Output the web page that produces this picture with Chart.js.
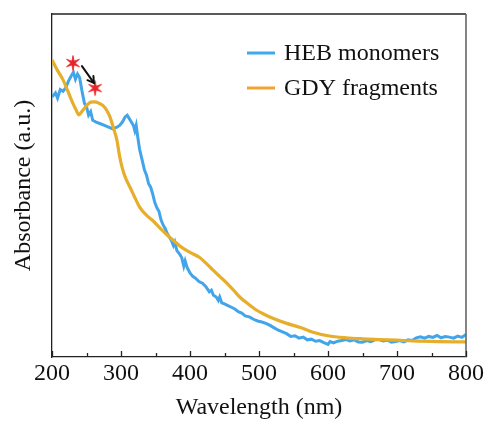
<!DOCTYPE html>
<html><head><meta charset="utf-8">
<script src="https://cdn.jsdelivr.net/npm/chart.js@4/dist/chart.umd.min.js"></script>
<style>html,body{margin:0;padding:0;background:#fff}</style>
</head><body>
<canvas id="c" width="486" height="423"></canvas>
<script>
// ---- data (wavelength in nm, absorbance in arbitrary units 0..100) ----
const hebWavelength = [200,205,208,212,216,220,224,228,231,234,237,240,244,247,250,253,256,259,264,270,276,282,288,294,298,302,306,309,312,315,318,320,322,324,327,330,334,337,340,343,346,349,352,355,358,361,364,367,370,373,376,378,381,385,388,391,393,396,400,404,408,413,418,423,428,431,434,438,441,443,446,450,455,460,465,470,475,480,486,492,498,504,510,516,522,528,534,540,546,552,558,564,570,576,582,588,594,600,603,608,614,620,626,632,638,644,650,656,662,668,674,680,686,692,698,704,710,716,722,728,734,740,746,752,758,764,770,776,782,788,794,800];
const hebAbsorbance = [75.8,77.0,75.5,78.0,77.5,78.5,80.5,82.0,83.0,81.0,82.5,81.5,77.0,74.0,73.0,70.5,71.5,69.0,68.5,68.0,67.5,67.0,66.5,67.0,67.5,68.5,70.0,70.5,69.5,68.5,67.5,66.0,67.5,64.5,60.5,58.0,54.5,53.0,50.5,49.5,47.5,45.0,43.5,42.5,40.0,38.5,37.5,36.0,35.0,34.0,32.5,33.5,31.0,30.0,29.0,26.5,28.0,26.0,24.5,23.5,23.0,22.0,21.5,20.5,19.0,19.5,18.0,17.5,16.5,17.5,15.8,15.5,15.0,14.5,14.0,13.2,12.8,12.0,11.7,11.0,10.5,10.2,9.8,9.2,8.5,7.8,7.3,6.8,6.0,6.2,5.5,5.8,5.0,5.2,4.6,4.8,4.2,3.7,4.5,4.1,4.6,4.8,5.1,4.7,5.0,4.4,4.3,4.8,4.5,5.0,5.1,4.7,4.9,4.3,4.5,4.8,4.4,5.0,4.8,5.6,5.9,5.5,6.0,5.7,6.3,5.6,6.0,5.8,5.5,6.1,5.7,6.6];
const gdyWavelength = [200,208,216,223,230,235,239,243,247,251,256,262,268,274,279,284,289,294,298,302,307,313,320,327,336,346,358,370,380,389,400,414,424,433,443,453,463,472,484,496,508,520,540,560,577,600,626,650,674,700,722,760,800];
const gdyAbsorbance = [86.6,83.5,80.8,77.5,74.1,72.0,70.6,71.5,72.5,73.5,74.3,74.4,74.0,73.3,72.0,70.0,66.8,63.3,58.5,55.0,52.0,49.5,46.5,43.7,41.5,39.8,37.3,35.0,33.3,31.8,30.5,29.0,27.2,25.4,23.5,21.6,19.5,17.5,15.5,13.7,12.4,11.3,9.8,8.6,7.3,6.2,5.6,5.3,5.1,4.9,4.7,4.5,4.4];
const starWavelength = [230.4, 262.5];
const starAbsorbance = [85.7, 78.4];
const arrowWavelength = [243.4, 260.7];
const arrowAbsorbance = [84.8, 79.9];
const xMajorTicks = [200,300,400,500,600,700,800];
const xMinorTicks = [250,350,450,550,650,750];
const seriesLabels = ['HEB monomers', 'GDY fragments'];
const xTitle = 'Wavelength (nm)';
const yTitle = 'Absorbance (a.u.)';

const BLUE = '#42a5ea';
const LEGEND_BLUE = '#3fa9f0';
const GOLD = '#e6ae2a';
const LEGEND_GOLD = '#f2a233';
const FONT = "'Liberation Serif', 'Times New Roman', serif";

function toPoints(xs, ys) { return xs.map((x, i) => ({x: x, y: ys[i]})); }

// star marker image (thin filled red star)
const starImg = document.createElement('canvas');
starImg.width = 18; starImg.height = 18;
(function(){
  const g = starImg.getContext('2d');
  g.fillStyle = '#e8232a'; g.strokeStyle = '#e8232a'; g.lineWidth = 0.8; g.beginPath();
  const cx = 9, cy = 9, R = 7.5, r = 2.2, n = 6;
  for (let i = 0; i < 2*n; i++) {
    const a = -Math.PI/2 + i*Math.PI/n;
    const rad = i % 2 === 0 ? R : r;
    const px = cx + rad*Math.cos(a), py = cy + rad*Math.sin(a);
    if (i === 0) g.moveTo(px, py); else g.lineTo(px, py);
  }
  g.closePath(); g.fill(); g.stroke();
})();

const decor = {
  id: 'decor',
  afterDatasetsDraw(chart) {
    const {ctx, scales: {x, y}} = chart;
    ctx.save();
    const x0 = x.getPixelForValue(arrowWavelength[0]), y0 = y.getPixelForValue(arrowAbsorbance[0]);
    const x1 = x.getPixelForValue(arrowWavelength[1]), y1 = y.getPixelForValue(arrowAbsorbance[1]);
    ctx.strokeStyle = '#111'; ctx.lineWidth = 2; ctx.lineCap = 'round';
    ctx.beginPath(); ctx.moveTo(x0, y0); ctx.lineTo(x1, y1); ctx.stroke();
    const ang = Math.atan2(y1 - y0, x1 - x0), hl = 7;
    ctx.beginPath();
    ctx.moveTo(x1 - hl*Math.cos(ang - 0.55), y1 - hl*Math.sin(ang - 0.55));
    ctx.lineTo(x1, y1);
    ctx.lineTo(x1 - hl*Math.cos(ang + 0.55), y1 - hl*Math.sin(ang + 0.55));
    ctx.stroke();
    ctx.restore();
  },
  afterDraw(chart) {
    const {ctx, chartArea: a, scales: {x}} = chart;
    ctx.save();
    ctx.strokeStyle = '#222'; ctx.lineWidth = 1.3;
    ctx.beginPath(); ctx.moveTo(a.left, a.top); ctx.lineTo(a.right, a.top); ctx.stroke();
    ctx.strokeStyle = '#666'; ctx.lineWidth = 1.6;
    ctx.beginPath(); ctx.moveTo(a.right, a.top); ctx.lineTo(a.right, a.bottom); ctx.stroke();
    ctx.strokeStyle = '#222'; ctx.lineWidth = 1.3;
    xMajorTicks.forEach(v => { const px = Math.round(x.getPixelForValue(v)) + 0.5;
      ctx.beginPath(); ctx.moveTo(px, a.bottom); ctx.lineTo(px, a.bottom - 6); ctx.stroke(); });
    xMinorTicks.forEach(v => { const px = Math.round(x.getPixelForValue(v)) + 0.5;
      ctx.beginPath(); ctx.moveTo(px, a.bottom); ctx.lineTo(px, a.bottom - 4); ctx.stroke(); });
    const colors = [LEGEND_BLUE, LEGEND_GOLD];
    const rows = [53, 88];
    ctx.font = '24px ' + FONT; ctx.textBaseline = 'middle'; ctx.fillStyle = '#111';
    seriesLabels.forEach((lab, i) => {
      ctx.strokeStyle = colors[i]; ctx.lineWidth = 3;
      ctx.beginPath(); ctx.moveTo(247, rows[i]); ctx.lineTo(275, rows[i]); ctx.stroke();
      ctx.fillText(lab, 284, rows[i] + 1);
    });
    ctx.restore();
  }
};

new Chart(document.getElementById('c'), {
  type: 'line',
  data: {
    datasets: [
      { label: seriesLabels[0], data: toPoints(hebWavelength, hebAbsorbance), borderColor: BLUE, borderWidth: 3, pointRadius: 0, tension: 0, order: 2 },
      { label: seriesLabels[1], data: toPoints(gdyWavelength, gdyAbsorbance), borderColor: GOLD, borderWidth: 3.2, pointRadius: 0, cubicInterpolationMode: 'monotone', order: 1 },
      { label: 'markers', data: toPoints(starWavelength, starAbsorbance), showLine: false, pointStyle: starImg, pointRadius: 9, order: 0 }
    ]
  },
  options: {
    responsive: false, animation: false, devicePixelRatio: 1,
    layout: { padding: { top: 14, right: 19, left: 0, bottom: 0 } },
    plugins: { legend: { display: false }, tooltip: { enabled: false } },
    scales: {
      x: {
        type: 'linear', min: 200, max: 800,
        afterBuildTicks(s) { s.ticks = xMajorTicks.map(v => ({value: v})); },
        afterFit(s) { s.height = 66; },
        grid: { display: false, drawTicks: false },
        border: { display: true, color: '#222', width: 1.3 },
        ticks: { padding: 2, color: '#111', font: { family: FONT, size: 24 }, maxRotation: 0 },
        title: { display: true, text: xTitle, color: '#111', font: { family: FONT, size: 24 }, padding: { top: 0, bottom: 1 } }
      },
      y: {
        min: 0, max: 100,
        afterFit(s) { s.width = 52; },
        grid: { display: false, drawTicks: false },
        border: { display: true, color: '#222', width: 1.3 },
        ticks: { display: false },
        title: { display: true, text: yTitle, color: '#111', font: { family: FONT, size: 24 }, padding: { top: 9, bottom: 0 } }
      }
    }
  },
  plugins: [decor]
});
</script>
</body></html>
